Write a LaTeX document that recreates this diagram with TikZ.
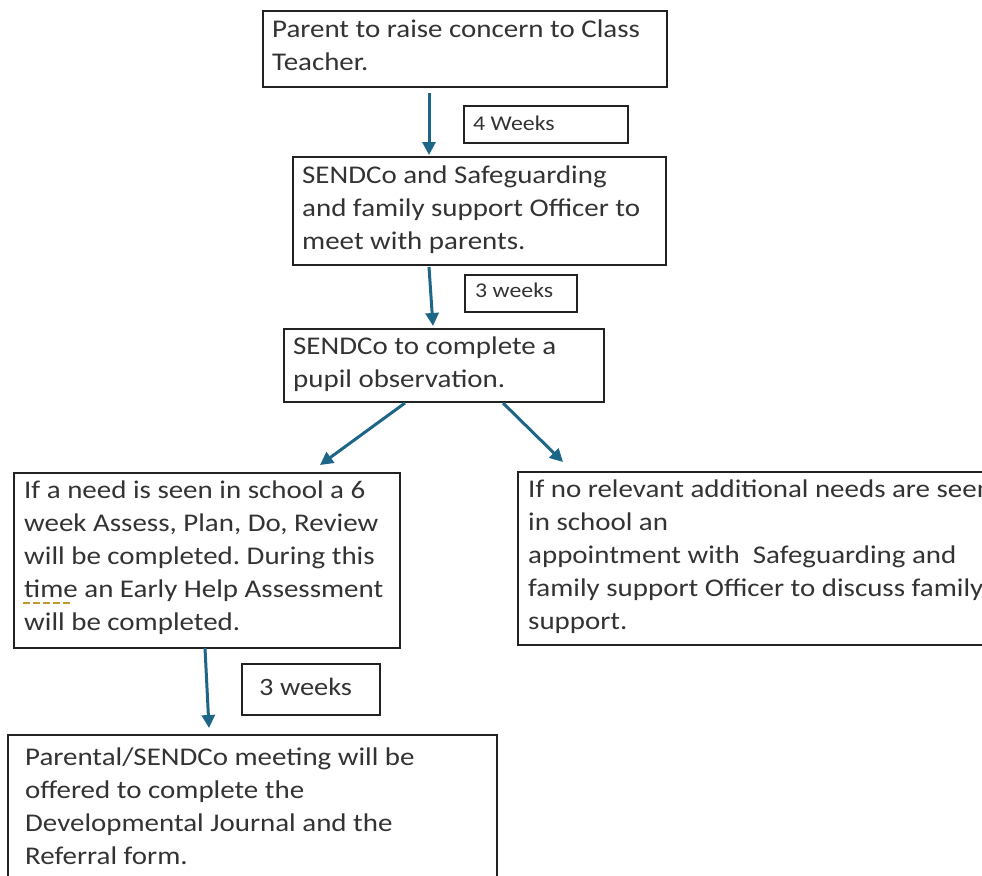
\documentclass[tikz,border=0pt]{standalone}
\usepackage{fontspec}
\setmainfont{Carlito}[FakeStretch=1.135]
\usetikzlibrary{arrows.meta}
\definecolor{arrowblue}{HTML}{1E6687}
\definecolor{textgray}{HTML}{333333}
\definecolor{edgegray}{HTML}{222222}
\definecolor{squiggle}{HTML}{C8962E}
\newcommand{\fstrut}{\rule{0pt}{19pt}}
\frenchspacing
\begin{document}
\begin{tikzpicture}[x=1pt,y=-1pt,
  box/.style={draw=edgegray, line width=1.3pt, rectangle, inner sep=0pt, outer sep=0pt, anchor=north west},
  txt/.style={anchor=north west, inner sep=0pt, align=left, text=textgray, font=\fontsize{25.5}{33}\selectfont},
  lbltxt/.style={anchor=base west, inner sep=0pt, text=textgray},
  arr/.style={draw=arrowblue, line width=3pt, -{Triangle[length=13pt,width=13pt]}}
]
\useasboundingbox (0,0) rectangle (982,875);
\clip (0,0) rectangle (982,875);

% main boxes
\node[box, minimum width=404, minimum height=76] (b1) at (263,11) {};
\node[box, minimum width=373, minimum height=108] (b2) at (293,157) {};
\node[box, minimum width=320, minimum height=73] (b3) at (284,329) {};
\node[box, minimum width=386, minimum height=175] (b4) at (14,473) {};
\node[box, minimum width=480, minimum height=173] (b5) at (518,472) {};
\node[box, minimum width=489, minimum height=155] (b6) at (8,735) {};

% texts
\node[txt] (t1) at ([shift={(9,7)}]b1.north west) {\fstrut Parent to raise concern to Class\\Teacher.};
\node[txt] (t2) at ([shift={(9,7)}]b2.north west) {\fstrut SENDCo and Safeguarding\\and family support Officer to\\meet with parents.};
\node[txt] (t3) at ([shift={(9,6)}]b3.north west) {\fstrut SENDCo to complete a\\pupil observation.};
\node[txt] (t4) at ([shift={(10,6)}]b4.north west) {\fstrut If a need is seen in school a 6\\week Assess, Plan, Do, Review\\will be completed. During this\\time an Early Help Assessment\\will be completed.};
\node[txt] (t5) at ([shift={(10,6)}]b5.north west) {\fstrut If no relevant additional needs are seen\\in school an\\appointment with~ Safeguarding and\\family support Officer to discuss family\\support.};
\node[txt] (t6) at ([shift={(17,11)}]b6.north west) {\fstrut Parental/SENDCo meeting will be\\offered to complete the\\Developmental Journal and the\\Referral form.};

% dotted proofing underline under "time"
\draw[squiggle, line width=2.2pt, dash pattern=on 7pt off 3pt] ([shift={(9,130)}]b4.north west) -- ([shift={(59,130)}]b4.north west);

% duration labels
\node[box, minimum width=164, minimum height=37] (l1) at (464,106) {};
\node[lbltxt, font=\fontsize{21}{26}\selectfont] (lt1) at ([shift={(9,24)}]l1.north west) {4 Weeks};
\node[box, minimum width=112, minimum height=37] (l2) at (465,275) {};
\node[lbltxt, font=\fontsize{21}{26}\selectfont] (lt2) at ([shift={(10,22)}]l2.north west) {3 weeks};
\node[box, minimum width=138, minimum height=51] (l3) at (242,664) {};
\node[lbltxt, font=\fontsize{25}{30}\selectfont] (lt3) at ([shift={(17,31)}]l3.north west) {3 weeks};

% arrows
\draw[arr] ([shift={(166,6)}]b1.south west) -- ([shift={(136,-2)}]b2.north west);
\draw[arr] ([shift={(136,2)}]b2.south west) -- ([shift={(149,-3)}]b3.north west);
\draw[arr] ([shift={(121,1)}]b3.south west) -- ([shift={(-80,-8)}]b4.north east);
\draw[arr] ([shift={(219,1)}]b3.south west) -- ([shift={(45,-10)}]b5.north west);
\draw[arr] ([shift={(191,0)}]b4.south west) -- ([shift={(201,-7)}]b6.north west);
\end{tikzpicture}
\end{document}
